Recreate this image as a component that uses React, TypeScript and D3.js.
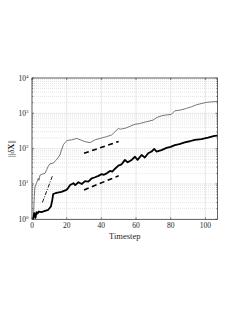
import React from 'react';
import * as d3 from 'd3';

// thin grey curve (timestep, norm)
const thinT = [0.8, 1.3, 1.7, 2.6, 3.6, 4.0, 4.6, 5.9, 7.5, 8.4, 9.4, 10.3, 12.2, 14.1, 16.1, 17.0, 18.2, 20.1, 23.0, 25.9, 27.8, 30.6, 33.5, 36.4, 39.3, 43.1, 46.0, 47.9, 49.8, 51.0, 54.6, 57.0, 59.4, 62.0, 65.1, 67.5, 69.9, 72.0, 74.7, 77.5, 80.4, 82.4, 86.0, 89.1, 92.0, 94.8, 97.5, 100.6, 103.0, 105.3, 107];
const thinV = [1.0, 4.4, 8.3, 10.5, 14.5, 12.6, 17.8, 19, 20, 25, 32, 37, 39, 48, 66, 91, 132, 170, 178, 195, 178, 158, 148, 178, 195, 219, 245, 302, 372, 355, 389, 440, 490, 510, 562, 600, 646, 760, 851, 900, 933, 1175, 1250, 1380, 1530, 1740, 1880, 2040, 2100, 2140, 2190];

// thick black curve
const thickT = [0.6, 1.3, 2.0, 2.6, 3.2, 4.0, 5.5, 7.5, 9.4, 10.9, 11.7, 12.2, 14.1, 17.0, 19.9, 21.0, 22.0, 23.9, 24.9, 26.8, 28.7, 30.6, 32.5, 34.5, 36.4, 38.3, 40.2, 41.5, 43.1, 45.0, 46.3, 47.9, 49.8, 51.7, 53.6, 55.2, 57.5, 59.4, 60.9, 63.2, 65.1, 67.0, 69.0, 70.5, 71.8, 74.7, 77.6, 80.0, 82.4, 85.0, 88.1, 91.0, 93.9, 97.7, 101.5, 105.3, 107];
const thickV = [1.0, 1.5, 1.1, 1.6, 1.45, 1.66, 1.6, 1.74, 1.86, 2.3, 3.5, 5.2, 5.6, 6.0, 6.8, 7.9, 9.3, 10.5, 9.3, 11.2, 10, 12, 11.7, 14.5, 15.5, 17, 19, 18.2, 20, 23.4, 22.4, 27, 33, 36, 48, 41, 48, 59, 48, 66, 56, 74, 83, 98, 83, 91, 105, 112, 126, 134, 151, 162, 178, 186, 204, 229, 234];

// reference slopes
const dashDotT = [6, 12];
const dashDotV = [3, 18];
const upperRefT = [30, 50];
const upperRefV = [74, 160];
const lowerRefT = [30, 50];
const lowerRefV = [6.8, 17];

const xTicks = [0, 20, 40, 60, 80, 100];
const yDecades = [0, 1, 2, 3, 4];

const W = 240;
const H = 310;
const left = 32;
const right = 217.5;
const top = 78;
const bottom = 219.3;
const font = '"Liberation Serif", "DejaVu Serif", serif';

export default function App() {
  const x = d3.scaleLinear().domain([0, 107]).range([left, right]);
  const y = d3.scaleLog().domain([1, 10000]).range([bottom, top]);

  const line = (ts: number[], vs: number[]) =>
    d3.line<number>().x((_, i) => x(ts[i])).y((_, i) => y(vs[i]))(ts.map((_, i) => i)) || '';

  const minor: number[] = [];
  yDecades.slice(0, -1).forEach(d => {
    for (let m = 2; m <= 9; m++) minor.push(m * Math.pow(10, d));
  });

  return (
    <svg width={W} height={H} style={{ position: 'absolute', left: 0, top: 0 }}>
      <rect x={0} y={0} width={W} height={H} fill="#fff" />
      {/* minor grid */}
      {minor.map(v => (
        <line key={'m' + v} x1={left} x2={right} y1={y(v)} y2={y(v)} stroke="#c8c8c8" strokeWidth={0.5} strokeDasharray="1,1" />
      ))}
      {/* major grid */}
      {yDecades.map(d => (
        <line key={'gy' + d} x1={left} x2={right} y1={y(Math.pow(10, d))} y2={y(Math.pow(10, d))} stroke="#dedede" strokeWidth={0.7} />
      ))}
      {xTicks.map(t => (
        <line key={'gx' + t} x1={x(t)} x2={x(t)} y1={top} y2={bottom} stroke="#dedede" strokeWidth={0.7} />
      ))}

      {/* curves */}
      <path d={line(thinT, thinV)} fill="none" stroke="#555" strokeWidth={0.8} />
      <path d={line(thickT, thickV)} fill="none" stroke="#000" strokeWidth={1.8} strokeLinejoin="round" />
      <path d={line(dashDotT, dashDotV)} fill="none" stroke="#000" strokeWidth={0.9} strokeDasharray="4,1.5,1,1.5" />
      <path d={line(upperRefT, upperRefV)} fill="none" stroke="#000" strokeWidth={1.6} strokeDasharray="5,3.5" />
      <path d={line(lowerRefT, lowerRefV)} fill="none" stroke="#000" strokeWidth={1.6} strokeDasharray="5,3.5" />

      {/* ticks */}
      {xTicks.map(t => (
        <g key={'tx' + t}>
          <line x1={x(t)} x2={x(t)} y1={bottom} y2={bottom - 2} stroke="#333" strokeWidth={0.6} />
          <line x1={x(t)} x2={x(t)} y1={top} y2={top + 2} stroke="#333" strokeWidth={0.6} />
        </g>
      ))}
      {minor.map(v => (
        <g key={'tm' + v}>
          <line x1={left} x2={left + 1.2} y1={y(v)} y2={y(v)} stroke="#333" strokeWidth={0.5} />
          <line x1={right} x2={right - 1.2} y1={y(v)} y2={y(v)} stroke="#333" strokeWidth={0.5} />
        </g>
      ))}
      {yDecades.map(d => (
        <g key={'ty' + d}>
          <line x1={left} x2={left + 2} y1={y(Math.pow(10, d))} y2={y(Math.pow(10, d))} stroke="#333" strokeWidth={0.6} />
          <line x1={right} x2={right - 2} y1={y(Math.pow(10, d))} y2={y(Math.pow(10, d))} stroke="#333" strokeWidth={0.6} />
        </g>
      ))}

      <rect x={left} y={top} width={right - left} height={bottom - top} fill="none" stroke="#262626" strokeWidth={0.7} />

      {/* tick labels */}
      {xTicks.map(t => (
        <text key={'lx' + t} x={x(t)} y={bottom + 9} fontSize={7.5} fontFamily={font} fill="#262626" textAnchor="middle">
          {t}
        </text>
      ))}
      {yDecades.map(d => (
        <text key={'ly' + d} x={left - 3.5} y={y(Math.pow(10, d)) + 2.5} fontSize={7.5} fontFamily={font} fill="#262626" textAnchor="end">
          10<tspan fontSize={5} dy={-3}>{d}</tspan>
        </text>
      ))}

      <text x={(left + right) / 2} y={bottom + 20} fontSize={8.5} fontFamily={font} fill="#262626" textAnchor="middle">
        Timestep
      </text>
      <text transform={`translate(13.5,${(top + bottom) / 2}) rotate(-90)`} fontSize={8.5} fontFamily={font} fill="#262626" textAnchor="middle">
        ||<tspan fontStyle="italic">δ</tspan><tspan fontWeight="bold">X</tspan>||
      </text>
    </svg>
  );
}
